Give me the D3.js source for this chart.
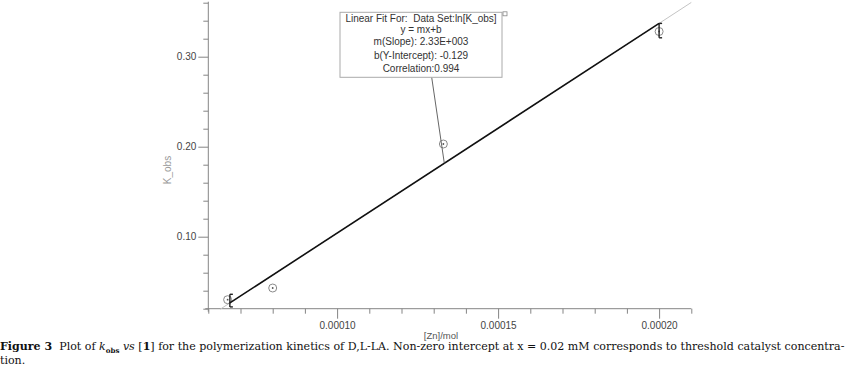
<!DOCTYPE html>
<html>
<head>
<meta charset="utf-8">
<script src="https://cdn.jsdelivr.net/npm/d3@7"></script>
<style>
  html, body { margin: 0; padding: 0; background: #fff; }
  svg { display: block; }
</style>
</head>
<body>
<svg id="chart" width="852" height="379"></svg>
<script>
// ---- data ----
const xValues = [0.000066, 0.00008, 0.000133, 0.0002];
const yValues = [0.030, 0.043, 0.203, 0.328];
const errX = [0.0000667, 0.0002];
const errLow = [0.022, 0.321];
const errHigh = [0.036, 0.337];
const fitSlope = 2330;
const fitIntercept = -0.129;
const fitRange = [0.0000667, 0.0002];
const fitExtRange = [0.0000637, 0.00021];
const xMajorTicks = [0.00010, 0.00015, 0.00020];
const xMajorLabels = ["0.00010", "0.00015", "0.00020"];
const xMinorTicks = [0.00006, 0.00007, 0.00008, 0.00009, 0.00011, 0.00012, 0.00013, 0.00014, 0.00016, 0.00017, 0.00018, 0.00019, 0.00021];
const yMajorTicks = [0.10, 0.20, 0.30];
const yMajorLabels = ["0.10", "0.20", "0.30"];
const yMinorTicks = [0.02, 0.04, 0.06, 0.08, 0.12, 0.14, 0.16, 0.18, 0.22, 0.24, 0.26, 0.28, 0.32, 0.34, 0.36];
const fitLabelLines = ["Linear Fit For:  Data Set:ln[K_obs]", "y = mx+b", "m(Slope): 2.33E+003", "b(Y-Intercept): -0.129", "Correlation:0.994"];
const xTitle = "[Zn]/mol";
const yTitle = "K_obs";

// ---- drawing ----
const svg = d3.select("#chart");
const axisColor = "#858585";
const labelColor = "#444";
const sans = "Arial, 'Liberation Sans', sans-serif";
const serif = "'Palatino Linotype', 'Book Antiqua', 'DejaVu Serif', 'Liberation Serif', serif";

const x = d3.scaleLinear().domain([0.00006, 0.00021]).range([208.3, 691.3]);
const y = d3.scaleLinear().domain([0.02, 0.36]).range([308.7, 2.7]);

// axis lines
svg.append("line").attr("x1", x.range()[0]).attr("x2", x.range()[0])
  .attr("y1", y.range()[1] - 1).attr("y2", y.range()[0] + 3)
  .attr("stroke", axisColor).attr("stroke-width", 1);
svg.append("line").attr("x1", x.range()[0] - 3).attr("x2", x.range()[1])
  .attr("y1", y.range()[0]).attr("y2", y.range()[0])
  .attr("stroke", axisColor).attr("stroke-width", 1);

function styleAxis(g) {
  g.select(".domain").remove();
  g.selectAll(".tick line").attr("stroke", axisColor);
  g.selectAll(".tick text").attr("fill", labelColor).style("font-size", "10px")
    .style("font-family", sans);
}

// y axis
svg.append("g").attr("transform", `translate(${x.range()[0]},0)`)
  .call(d3.axisLeft(y).tickValues(yMinorTicks).tickSize(5).tickFormat(""))
  .call(styleAxis);
svg.append("g").attr("transform", `translate(${x.range()[0]},0)`)
  .call(d3.axisLeft(y).tickValues(yMajorTicks).tickSize(10).tickPadding(2)
    .tickFormat((d, i) => yMajorLabels[i]))
  .call(styleAxis);

// x axis
svg.append("g").attr("transform", `translate(0,${y.range()[0]})`)
  .call(d3.axisBottom(x).tickValues(xMinorTicks).tickSize(5).tickFormat(""))
  .call(styleAxis);
svg.append("g").attr("transform", `translate(0,${y.range()[0]})`)
  .call(d3.axisBottom(x).tickValues(xMajorTicks).tickSize(10).tickPadding(3)
    .tickFormat((d, i) => xMajorLabels[i]))
  .call(styleAxis);

// axis titles
svg.append("text").attr("x", 441).attr("y", 339).attr("text-anchor", "middle")
  .style("font-family", sans).style("font-size", "9.5px").attr("fill", "#555").text(xTitle);
svg.append("text").attr("transform", "translate(171,170) rotate(-90)")
  .attr("text-anchor", "middle").style("font-family", sans).style("font-size", "10px")
  .attr("fill", "#999").text(yTitle);

// extended fit line (light)
svg.append("line")
  .attr("x1", x(fitExtRange[0])).attr("y1", y(fitSlope * fitExtRange[0] + fitIntercept))
  .attr("x2", x(fitExtRange[1])).attr("y2", y(fitSlope * fitExtRange[1] + fitIntercept))
  .attr("stroke", "#c4c4c4").attr("stroke-width", 1);

// data points
const pts = svg.append("g");
xValues.forEach((xv, i) => {
  pts.append("circle").attr("cx", x(xv)).attr("cy", y(yValues[i])).attr("r", 4)
    .attr("fill", "none").attr("stroke", "#8a8a8a").attr("stroke-width", 1);
  pts.append("circle").attr("cx", x(xv)).attr("cy", y(yValues[i])).attr("r", 0.9)
    .attr("fill", "#555");
});

// error bars
errX.forEach((xv, i) => {
  const g = svg.append("g").attr("stroke", "#222").attr("stroke-width", 1.4);
  g.append("line").attr("x1", x(xv)).attr("x2", x(xv)).attr("y1", y(errLow[i])).attr("y2", y(errHigh[i]));
  g.append("line").attr("x1", x(xv)).attr("x2", x(xv) + 3).attr("y1", y(errLow[i])).attr("y2", y(errLow[i]));
  g.append("line").attr("x1", x(xv)).attr("x2", x(xv) + 3).attr("y1", y(errHigh[i])).attr("y2", y(errHigh[i]));
});

// fit line
svg.append("line")
  .attr("x1", x(fitRange[0])).attr("y1", y(fitSlope * fitRange[0] + fitIntercept))
  .attr("x2", x(fitRange[1])).attr("y2", y(fitSlope * fitRange[1] + fitIntercept))
  .attr("stroke", "#111").attr("stroke-width", 1.6);

// annotation box
const boxX = 340, boxY = 12.3, boxW = 162, boxH = 65;
const anchorX = 0.0001333;
svg.append("line").attr("x1", 431.7).attr("y1", boxY + boxH)
  .attr("x2", x(anchorX)).attr("y2", y(fitSlope * anchorX + fitIntercept))
  .attr("stroke", "#555").attr("stroke-width", 0.9);
svg.append("rect").attr("x", boxX).attr("y", boxY).attr("width", boxW).attr("height", boxH)
  .attr("fill", "#fff").attr("stroke", "#aaa").attr("stroke-width", 1);
svg.append("rect").attr("x", boxX + boxW + 1).attr("y", boxY - 0.5).attr("width", 4).attr("height", 4)
  .attr("fill", "#fff").attr("stroke", "#888").attr("stroke-width", 0.8);
const lineYs = [21.8, 32.5, 45, 58.5, 72];
fitLabelLines.forEach((t, i) => {
  svg.append("text").attr("x", boxX + boxW / 2).attr("y", lineYs[i])
    .attr("text-anchor", "middle").style("font-family", sans).style("font-size", "10px")
    .attr("fill", "#333").style("white-space", "pre").text(t);
});

// caption
const cap = svg.append("text").attr("x", 0).attr("y", 350)
  .style("font-family", serif).style("font-size", "11px")
  .attr("fill", "#111").style("white-space", "pre");
cap.append("tspan").style("font-weight", "bold").text("Figure 3");
cap.append("tspan").text("  Plot of ");
cap.append("tspan").style("font-style", "italic").text("k");
const sub = cap.append("tspan").style("font-size", "7px").style("font-weight", "bold").attr("dy", 2.5).text("obs");
cap.append("tspan").attr("dy", -2.5).text(" ");
cap.append("tspan").style("font-style", "italic").text("vs");
cap.append("tspan").text(" [");
cap.append("tspan").style("font-weight", "bold").text("1");
cap.append("tspan").text("] for the polymerization kinetics of D,L-LA. Non-zero intercept at x = 0.02 mM corresponds to threshold catalyst concentra-");
const w = cap.node().getComputedTextLength();
const targetW = 845;
const fs = Math.min(13, 11 * targetW / w);
cap.style("font-size", fs + "px");
sub.style("font-size", (fs * 0.64) + "px");
const w2 = cap.node().getComputedTextLength();
if (w2 < targetW - 2) {
  cap.attr("textLength", targetW).attr("lengthAdjust", "spacing");
}
svg.append("text").attr("x", 0).attr("y", 364)
  .style("font-family", serif).style("font-size", fs + "px").attr("fill", "#111").text("tion.");
</script>
</body>
</html>
